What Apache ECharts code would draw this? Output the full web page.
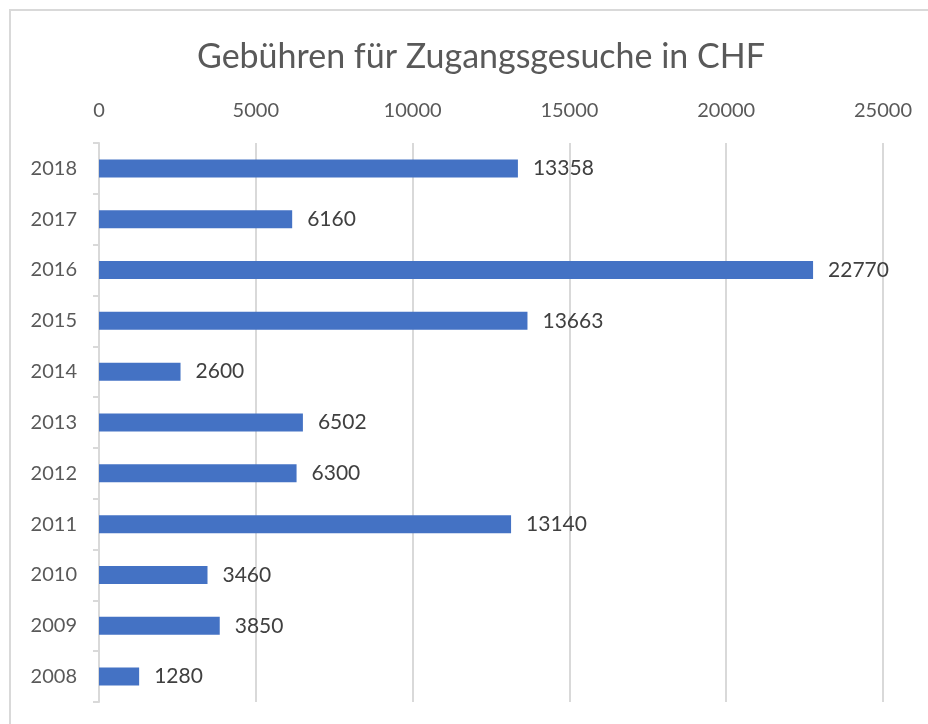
<!DOCTYPE html>
<html>
<head>
    <meta charset="utf-8"/>
    <style>
        html, body {
            height: 100%;
            margin: 0;
            padding: 0;
            background: #ffffff;
        }

        .container {
            width: 928px;
            height: 724px;
        }
    </style>
</head>
<body>
<div id="main" class="container"></div>
<script src="https://cdn.jsdelivr.net/npm/echarts@6/dist/echarts.min.js"></script>
<script type="text/javascript">
    // Daten
    var years = ['2008', '2009', '2010', '2011', '2012', '2013', '2014', '2015', '2016', '2017', '2018'];
    var fees = [1280, 3850, 3460, 13140, 6300, 6502, 2600, 13663, 22770, 6160, 13358];
    var titleText = 'Gebühren für Zugangsgesuche in CHF';

    var textColor = '#595959';
    var lineColor = '#d9d9d9';
    var fontName = 'Lato, "Open Sans", sans-serif';

    var myChart = echarts.init(document.getElementById('main'));

    var option = {
        animation: false,
        backgroundColor: '#ffffff',
        title: {
            text: titleText,
            left: 192,
            top: 35,
            textStyle: {
                color: textColor,
                fontSize: 34,
                fontWeight: 'normal',
                fontFamily: fontName
            }
        },
        // Rahmen um das Diagramm
        graphic: [{
            type: 'rect',
            shape: {x: 10, y: 10, width: 940, height: 740},
            style: {fill: 'none', stroke: lineColor, lineWidth: 2},
            silent: true
        }],
        grid: {
            left: 99,
            right: 45,
            top: 143,
            bottom: 22
        },
        xAxis: {
            type: 'value',
            position: 'top',
            min: 0,
            max: 25000,
            interval: 5000,
            axisLine: {show: false},
            axisTick: {show: false},
            axisLabel: {
                color: textColor,
                fontSize: 20,
                fontFamily: fontName,
                margin: 22,
                formatter: function (v) { return String(v); }
            },
            splitLine: {
                lineStyle: {color: lineColor, width: 2}
            }
        },
        yAxis: {
            type: 'category',
            data: years,
            axisLine: {
                lineStyle: {color: lineColor, width: 2}
            },
            axisTick: {
                show: true,
                length: 6,
                lineStyle: {color: lineColor, width: 2}
            },
            axisLabel: {
                color: textColor,
                fontSize: 20,
                fontFamily: fontName,
                margin: 22
            }
        },
        series: [{
            type: 'bar',
            data: fees,
            barWidth: 18,
            itemStyle: {color: '#4472c4'},
            label: {
                show: true,
                position: 'right',
                distance: 15,
                color: '#404040',
                fontSize: 21,
                fontFamily: fontName
            }
        }]
    };

    myChart.setOption(option);
</script>
</body>
</html>
